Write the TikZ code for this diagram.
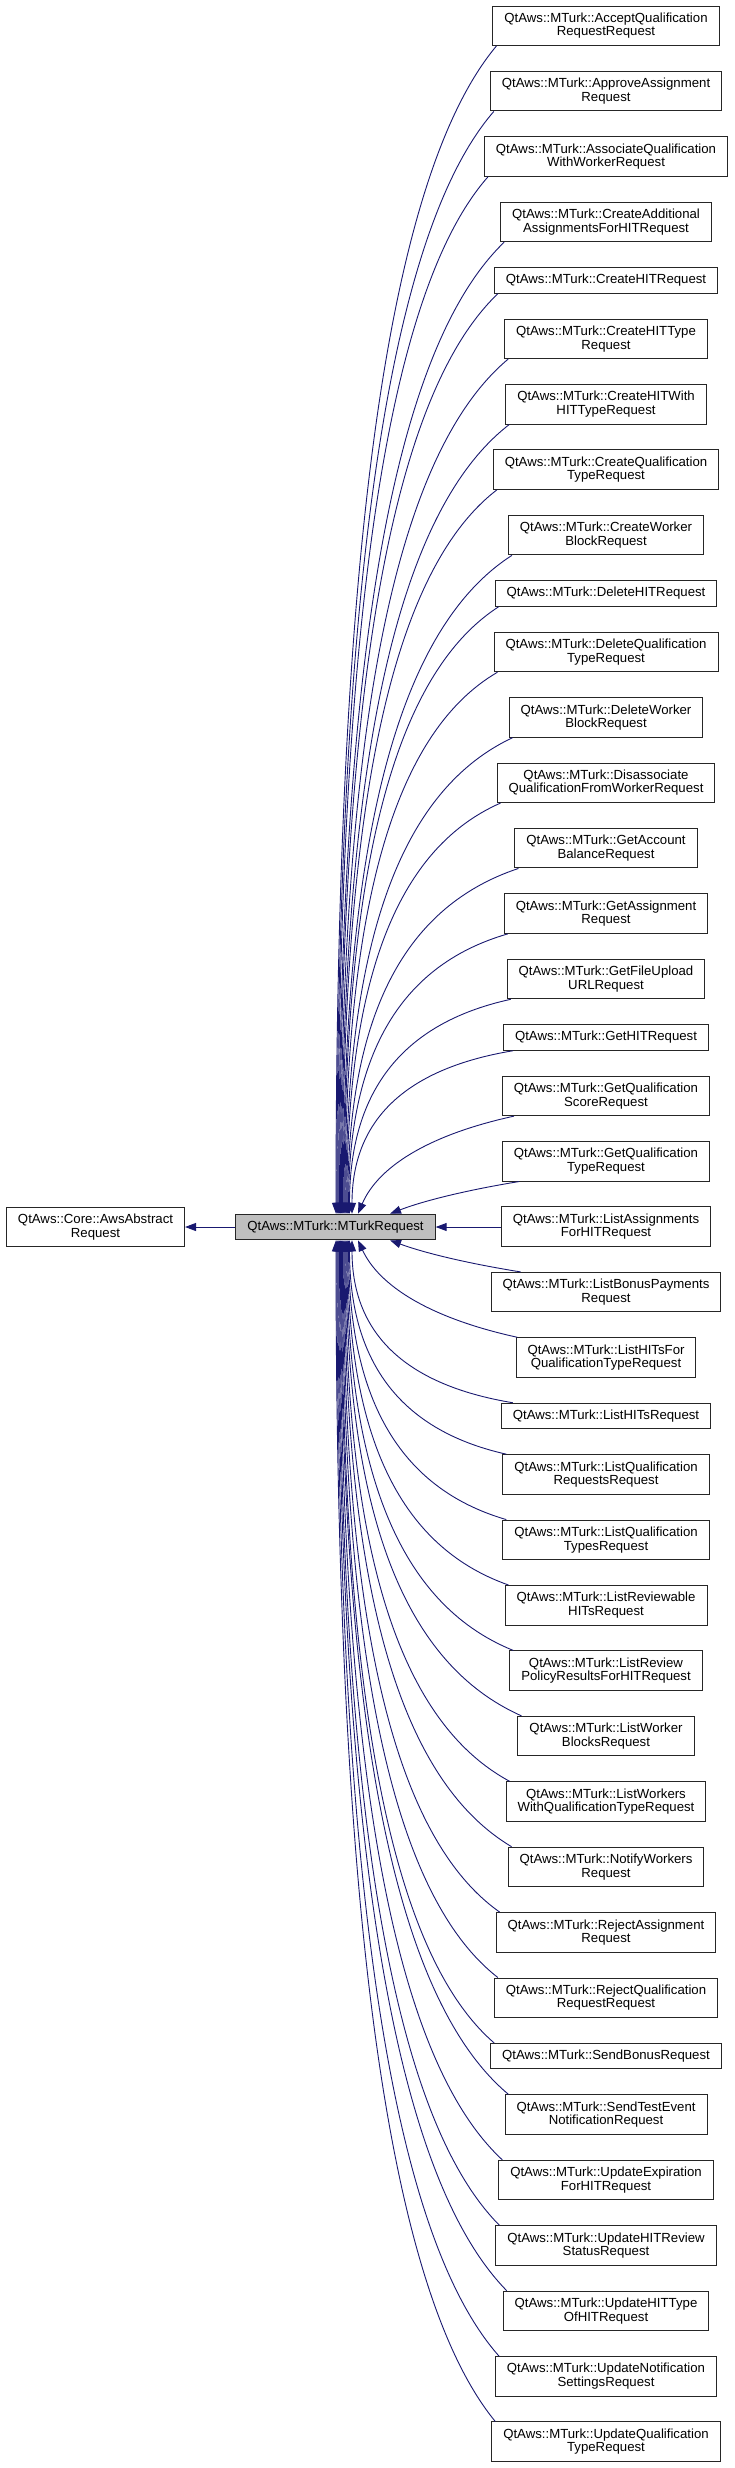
\documentclass[tikz,border=0pt]{standalone}
\usepackage{fontspec}
\setmainfont{Liberation Sans}
\usetikzlibrary{calc,arrows.meta}
\definecolor{mblue}{RGB}{25,25,112}
\definecolor{gseventyfive}{RGB}{191,191,191}
\tikzset{
  box/.style={draw=black!85, line width=1pt, fill=white, align=center, inner xsep=11.5pt, inner ysep=2pt, font=\fontsize{13.2}{13.5}\selectfont},
  one/.style={box, minimum height=25.5pt},
  two/.style={box, minimum height=39.5pt},
  inh/.style={draw=mblue, line width=0.9pt, >={Triangle[length=11pt,width=8pt]}, <-}
}
\newcommand{\upedge}[3]{%
  \draw[inh] let \p1=($(m.north)+(#3-335.5,0)$), \p2=($(#1.south west)+(#2,0)$),
    \n1={min(1,abs((\y2)-(\y1))/((\x2)-(\x1)))} in
    (\p1) .. controls ({\n1*(\x1)+(1-\n1)*((\x1)+((\x2)-(\x1))/3)}, {\n1*((\y1)+0.55*((\y2)-(\y1)))+(1-\n1)*((\y1)+((\y2)-(\y1))/3)})
    and ({\n1*((\x2)-0.7*((\x2)-(\x1)))+(1-\n1)*((\x1)+2*((\x2)-(\x1))/3)}, {\n1*((\y2)-0.115*((\y2)-(\y1)))+(1-\n1)*((\y1)+2*((\y2)-(\y1))/3)}) .. (\p2);}
\newcommand{\downedge}[3]{%
  \draw[inh] let \p1=($(m.south)+(#3-335.5,0)$), \p2=($(#1.north west)+(#2,0)$),
    \n1={min(1,abs((\y2)-(\y1))/((\x2)-(\x1)))} in
    (\p1) .. controls ({\n1*(\x1)+(1-\n1)*((\x1)+((\x2)-(\x1))/3)}, {\n1*((\y1)+0.55*((\y2)-(\y1)))+(1-\n1)*((\y1)+((\y2)-(\y1))/3)})
    and ({\n1*((\x2)-0.7*((\x2)-(\x1)))+(1-\n1)*((\x1)+2*((\x2)-(\x1))/3)}, {\n1*((\y2)-0.115*((\y2)-(\y1)))+(1-\n1)*((\y1)+2*((\y2)-(\y1))/3)}) .. (\p2);}
\begin{document}
\begin{tikzpicture}[x=1pt,y=1pt]
\useasboundingbox (0,0) rectangle (735,-2468);
\node[two] (base) at (95.5,-1227) {QtAws::Core::AwsAbstract\\Request};
\node[one, fill=gseventyfive] (m) at (335.5,-1227) {QtAws::MTurk::MTurkRequest};
\node[two] (c1) at (606,-25.75) {QtAws::MTurk::AcceptQualification\\RequestRequest};
\node[two] (c2) at (606,-91.17) {QtAws::MTurk::ApproveAssignment\\Request};
\node[two] (c3) at (606,-156.59) {QtAws::MTurk::AssociateQualification\\WithWorkerRequest};
\node[two] (c4) at (606,-222.01) {QtAws::MTurk::CreateAdditional\\AssignmentsForHITRequest};
\node[one] (c5) at (606,-280.43) {QtAws::MTurk::CreateHITRequest};
\node[two] (c6) at (606,-338.85) {QtAws::MTurk::CreateHITType\\Request};
\node[two] (c7) at (606,-404.27) {QtAws::MTurk::CreateHITWith\\HITTypeRequest};
\node[two] (c8) at (606,-469.69) {QtAws::MTurk::CreateQualification\\TypeRequest};
\node[two] (c9) at (606,-535.11) {QtAws::MTurk::CreateWorker\\BlockRequest};
\node[one] (c10) at (606,-593.53) {QtAws::MTurk::DeleteHITRequest};
\node[two] (c11) at (606,-651.95) {QtAws::MTurk::DeleteQualification\\TypeRequest};
\node[two] (c12) at (606,-717.37) {QtAws::MTurk::DeleteWorker\\BlockRequest};
\node[two] (c13) at (606,-782.79) {QtAws::MTurk::Disassociate\\QualificationFromWorkerRequest};
\node[two] (c14) at (606,-848.21) {QtAws::MTurk::GetAccount\\BalanceRequest};
\node[two] (c15) at (606,-913.63) {QtAws::MTurk::GetAssignment\\Request};
\node[two] (c16) at (606,-979.05) {QtAws::MTurk::GetFileUpload\\URLRequest};
\node[one] (c17) at (606,-1037.47) {QtAws::MTurk::GetHITRequest};
\node[two] (c18) at (606,-1095.89) {QtAws::MTurk::GetQualification\\ScoreRequest};
\node[two] (c19) at (606,-1161.31) {QtAws::MTurk::GetQualification\\TypeRequest};
\node[two] (c20) at (606,-1226.73) {QtAws::MTurk::ListAssignments\\ForHITRequest};
\node[two] (c21) at (606,-1292.15) {QtAws::MTurk::ListBonusPayments\\Request};
\node[two] (c22) at (606,-1357.57) {QtAws::MTurk::ListHITsFor\\QualificationTypeRequest};
\node[one] (c23) at (606,-1415.99) {QtAws::MTurk::ListHITsRequest};
\node[two] (c24) at (606,-1474.41) {QtAws::MTurk::ListQualification\\RequestsRequest};
\node[two] (c25) at (606,-1539.83) {QtAws::MTurk::ListQualification\\TypesRequest};
\node[two] (c26) at (606,-1605.25) {QtAws::MTurk::ListReviewable\\HITsRequest};
\node[two] (c27) at (606,-1670.67) {QtAws::MTurk::ListReview\\PolicyResultsForHITRequest};
\node[two] (c28) at (606,-1736.09) {QtAws::MTurk::ListWorker\\BlocksRequest};
\node[two] (c29) at (606,-1801.51) {QtAws::MTurk::ListWorkers\\WithQualificationTypeRequest};
\node[two] (c30) at (606,-1866.93) {QtAws::MTurk::NotifyWorkers\\Request};
\node[two] (c31) at (606,-1932.35) {QtAws::MTurk::RejectAssignment\\Request};
\node[two] (c32) at (606,-1997.77) {QtAws::MTurk::RejectQualification\\RequestRequest};
\node[one] (c33) at (606,-2056.19) {QtAws::MTurk::SendBonusRequest};
\node[two] (c34) at (606,-2114.61) {QtAws::MTurk::SendTestEvent\\NotificationRequest};
\node[two] (c35) at (606,-2180.03) {QtAws::MTurk::UpdateExpiration\\ForHITRequest};
\node[two] (c36) at (606,-2245.45) {QtAws::MTurk::UpdateHITReview\\StatusRequest};
\node[two] (c37) at (606,-2310.87) {QtAws::MTurk::UpdateHITType\\OfHITRequest};
\node[two] (c38) at (606,-2376.29) {QtAws::MTurk::UpdateNotification\\SettingsRequest};
\node[two] (c39) at (606,-2441.71) {QtAws::MTurk::UpdateQualification\\TypeRequest};
% edges
\draw[inh] (base.east) -- (m.west);
\draw[inh] (m.east) -- (m.east -| c20.west);
\upedge{c1}{4}{336}
\upedge{c2}{4}{336.9}
\upedge{c3}{4}{337.8}
\upedge{c4}{4}{338.7}
\upedge{c5}{4}{339.6}
\upedge{c6}{4}{340.5}
\upedge{c7}{4}{341.4}
\upedge{c8}{4}{342.3}
\upedge{c9}{4}{343.2}
\upedge{c10}{4}{344.1}
\upedge{c11}{4}{345}
\upedge{c12}{4}{345.9}
\upedge{c13}{4}{346.8}
\upedge{c14}{4}{347.7}
\upedge{c15}{4}{348.6}
\upedge{c16}{4}{349.5}
\upedge{c17}{10}{352}
\upedge{c18}{12}{358}
\upedge{c19}{17}{390}
\downedge{c21}{30}{390}
\downedge{c22}{2}{358}
\downedge{c23}{12}{352}
\downedge{c24}{4}{349.5}
\downedge{c25}{4}{348.6}
\downedge{c26}{4}{347.7}
\downedge{c27}{4}{346.8}
\downedge{c28}{4}{345.9}
\downedge{c29}{4}{345}
\downedge{c30}{4}{344.1}
\downedge{c31}{4}{343.2}
\downedge{c32}{4}{342.3}
\downedge{c33}{4}{341.4}
\downedge{c34}{4}{340.5}
\downedge{c35}{4}{339.6}
\downedge{c36}{4}{338.7}
\downedge{c37}{4}{337.8}
\downedge{c38}{4}{336.9}
\downedge{c39}{4}{336}
\end{tikzpicture}
\end{document}
